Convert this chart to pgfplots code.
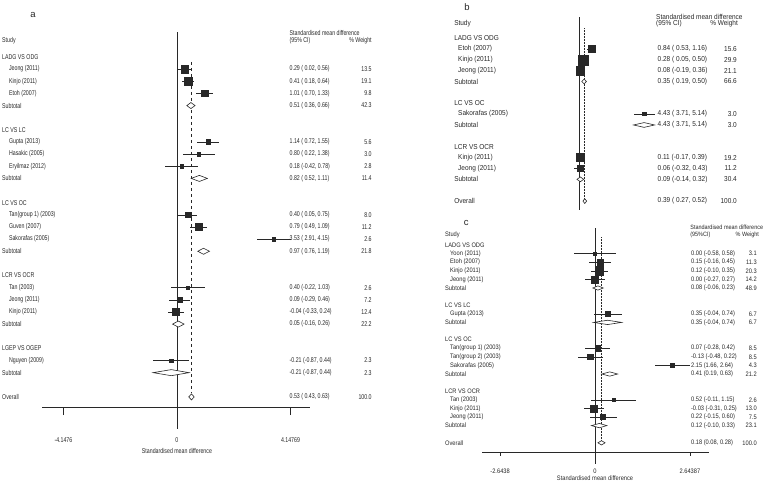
\documentclass[border=0pt]{standalone}
\usepackage{fontspec}
\setmainfont{Liberation Sans}
\newfontfamily\fa{Liberation Sans}[FakeStretch=0.75]
\newfontfamily\fb{Liberation Sans}[FakeStretch=0.9]
\newfontfamily\fc{Liberation Sans}[FakeStretch=0.88]
\usepackage{pgfplots}
\usepackage{pgfplotstable}
\pgfplotsset{compat=1.18}
\definecolor{ink}{RGB}{40,40,40}
\newcommand\FA{\fa\fontsize{7}{8}\selectfont}
\newcommand\FB{\fb\fontsize{7.2}{8}\selectfont}
\newcommand\FC{\fc\fontsize{6.5}{7}\selectfont}
\newcommand\FCh{\fc\fontsize{6.2}{7}\selectfont}
\newcommand\FL{\fontsize{9.5}{10}\selectfont}
\tikzset{txt/.style={font=\pf, text=ink, inner sep=0pt}}
\newcommand\Gr[2]{\node[txt,anchor=west] at (axis cs:\gx,-#1) {#2};}
\newcommand\St[4]{\node[txt,anchor=west] at (axis cs:\sx,-#1) {#2};\node[txt,anchor=west] at (axis cs:\cx,-#1) {#3};\node[txt,anchor=east] at (axis cs:\wx,-#1) {#4};}
\newcommand\Su[4]{\node[txt,anchor=west] at (axis cs:\gx,-#1) {#2};\node[txt,anchor=west] at (axis cs:\cx,-#1) {#3};\node[txt,anchor=east] at (axis cs:\wx,-#1) {#4};}
\pgfplotsset{
  sq/.style={
    scatter, only marks, mark=square*,
    scatter/use mapped color={draw=ink, fill=ink},
    point meta=\thisrow{w},
    visualization depends on={#1*sqrt(\thisrow{w}) \as \msz},
    scatter/@pre marker code/.append style={/tikz/mark size=\msz},
    error bars/.cd, x dir=both, x explicit, error mark=none,
    error bar style={line width=0.6pt, ink},
  },
  dia/.style={ink, fill=white, line width=0.6pt, mark=none},
  base/.style={scale only axis, clip=false, ytick=\empty,
    /pgf/number format/assume math mode=true},
}
\pgfplotstableread{
r est lo hi w
1 0.29 0.02 0.56 13.5
2 0.41 0.18 0.64 19.1
3 1.01 0.70 1.33 9.8
7 1.14 0.72 1.55 5.6
8 0.80 0.22 1.38 3.0
9 0.18 -0.42 0.78 2.8
13 0.40 0.05 0.75 8.0
14 0.79 0.49 1.09 11.2
15 3.53 2.91 4.15 2.6
19 0.40 -0.22 1.03 2.6
20 0.09 -0.29 0.46 7.2
21 -0.04 -0.33 0.24 12.4
25 -0.21 -0.87 0.44 2.3
}\studiesA
\pgfplotstableread{
r est lo hi w
1 0.84 0.53 1.16 15.6
2 0.28 0.05 0.50 29.9
3 0.08 -0.19 0.36 21.1
7 4.43 3.71 5.14 3.0
11 0.11 -0.17 0.39 19.2
12 0.06 -0.32 0.43 11.2
}\studiesB
\pgfplotstableread{
r est lo hi w
1 0.00 -0.58 0.58 3.1
2 0.15 -0.16 0.45 11.3
3 0.12 -0.10 0.35 20.3
4 0.00 -0.27 0.27 14.2
8 0.35 -0.04 0.74 6.7
12 0.07 -0.28 0.42 8.5
13 -0.13 -0.48 0.22 8.5
14 2.15 1.66 2.64 4.3
18 0.52 -0.11 1.15 2.6
19 -0.03 -0.31 0.25 13.0
20 0.22 -0.15 0.60 7.5
}\studiesC
\begin{document}
\begin{tikzpicture}
\path[use as bounding box] (0,0) rectangle (770pt,-483pt);
% ---------------- panel a
\def\gx{-6.39}\def\sx{-6.14}\def\cx{4.11}\def\wx{7.12}\def\pf{\FA}
\begin{axis}[base, at={(42pt,-407pt)}, anchor=south west,
  width=268pt, height=375pt,
  xmin=-4.93, xmax=4.86, ymin=-28.83, ymax=2.06,
  axis x line=bottom, axis y line=none,
  axis line style={-, line width=0.6pt, ink},
  xtick={-4.1476,0,4.14769}, xticklabels={-4.1476,0,4.14769},
  tick align=outside, major tick length=8pt,
  tick style={line width=0.6pt, ink},
  xticklabel style={font=\FA, text=ink, inner sep=0pt, yshift=-22pt},
  xlabel={Standardised mean difference},
  xlabel style={font=\FA, text=ink, inner sep=0pt, at={(axis description cs:0.5036,-0.1173)}, anchor=center},
]
\addplot[ink, line width=0.6pt] coordinates {(0,2.06) (0,-30.64)};
\addplot[ink, dashed, line width=0.5pt] coordinates {(0.53,-0.4) (0.53,-27.7)};
\addplot[sq=1.0] table[x=est, y expr=-\thisrow{r}, x error plus expr=\thisrow{hi}-\thisrow{est}, x error minus expr=\thisrow{est}-\thisrow{lo}] {\studiesA};
\addplot[dia] coordinates {(0.36,-4) (0.51,-3.75) (0.66,-4) (0.51,-4.25)} -- cycle;
\addplot[dia] coordinates {(0.52,-10) (0.82,-9.75) (1.11,-10) (0.82,-10.25)} -- cycle;
\addplot[dia] coordinates {(0.76,-16) (0.97,-15.75) (1.19,-16) (0.97,-16.25)} -- cycle;
\addplot[dia] coordinates {(-0.16,-22) (0.05,-21.75) (0.26,-22) (0.05,-22.25)} -- cycle;
\addplot[dia] coordinates {(-0.87,-26) (-0.21,-25.75) (0.44,-26) (-0.21,-26.25)} -- cycle;
\addplot[dia] coordinates {(0.43,-28) (0.53,-27.75) (0.63,-28) (0.53,-28.25)} -- cycle;
\node[font=\FL, text=ink, inner sep=0pt] at (axis cs:-5.26,3.46) {a};
\node[txt,anchor=west] at (axis cs:4.11,1.98) {Standardised mean difference};
\node[txt,anchor=west] at (axis cs:4.11,1.32) {(95\% CI)};
\node[txt,anchor=east] at (axis cs:7.12,1.32) {\% Weight};
\node[txt,anchor=west] at (axis cs:-6.39,1.32) {Study};
\Gr{0}{LADG VS ODG}
\St{1}{Jeong (2011)}{0.29 ( 0.02, 0.56)}{13.5}
\St{2}{Kinjo (2011)}{0.41 ( 0.18, 0.64)}{19.1}
\St{3}{Etoh (2007)}{1.01 ( 0.70, 1.33)}{9.8}
\Su{4}{Subtotal}{0.51 ( 0.36, 0.66)}{42.3}
\Gr{6}{LC VS LC}
\St{7}{Gupta (2013)}{1.14 ( 0.72, 1.55)}{5.6}
\St{8}{Hasakic (2005)}{0.80 ( 0.22, 1.38)}{3.0}
\St{9}{Eryilmaz (2012)}{0.18 (-0.42, 0.78)}{2.8}
\Su{10}{Subtotal}{0.82 ( 0.52, 1.11)}{11.4}
\Gr{12}{LC VS OC}
\St{13}{Tan(group 1) (2003)}{0.40 ( 0.05, 0.75)}{8.0}
\St{14}{Guven (2007)}{0.79 ( 0.49, 1.09)}{11.2}
\St{15}{Sakorafas (2005)}{3.53 ( 2.91, 4.15)}{2.6}
\Su{16}{Subtotal}{0.97 ( 0.76, 1.19)}{21.8}
\Gr{18}{LCR VS OCR}
\St{19}{Tan (2003)}{0.40 (-0.22, 1.03)}{2.6}
\St{20}{Jeong (2011)}{0.09 (-0.29, 0.46)}{7.2}
\St{21}{Kinjo (2011)}{-0.04 (-0.33, 0.24)}{12.4}
\Su{22}{Subtotal}{0.05 (-0.16, 0.26)}{22.2}
\Gr{24}{LGEP VS OGEP}
\St{25}{Nguyen (2009)}{-0.21 (-0.87, 0.44)}{2.3}
\Su{26}{Subtotal}{-0.21 (-0.87, 0.44)}{2.3}
\Su{28}{Overall}{0.53 ( 0.43, 0.63)}{100.0}
\end{axis}
% ---------------- panel b
\def\gx{-8.50}\def\sx{-8.23}\def\cx{5.34}\def\wx{10.75}\def\pf{\FB}
\begin{axis}[base, at={(579pt,-210pt)}, anchor=south west,
  width=75.56pt, height=193pt,
  xmin=0, xmax=5.14, ymin=-15.82, ymax=1.93,
  axis lines=none, xtick=\empty,
]
\addplot[ink, line width=0.6pt] coordinates {(0,1.93) (0,-15.82)};
\addplot[ink, densely dotted, line width=0.5pt] coordinates {(0.39,0.9) (0.39,-14.7)};
\addplot[sq=0.92] table[x=est, y expr=-\thisrow{r}, x error plus expr=\thisrow{hi}-\thisrow{est}, x error minus expr=\thisrow{est}-\thisrow{lo}] {\studiesB};
\addplot[dia] coordinates {(0.19,-4) (0.35,-3.78) (0.50,-4) (0.35,-4.22)} -- cycle;
\addplot[dia] coordinates {(3.71,-8) (4.43,-7.78) (5.14,-8) (4.43,-8.22)} -- cycle;
\addplot[dia] coordinates {(-0.14,-13) (0.09,-12.78) (0.32,-13) (0.09,-13.22)} -- cycle;
\addplot[dia] coordinates {(0.27,-15) (0.39,-14.78) (0.52,-15) (0.39,-15.22)} -- cycle;
\node[font=\FL, text=ink, inner sep=0pt] at (axis cs:-7.62,2.85) {b};
\node[txt,anchor=west] at (axis cs:5.24,1.93) {Standardised mean difference};
\node[txt,anchor=west] at (axis cs:5.24,1.29) {(95\% CI)};
\node[txt,anchor=east] at (axis cs:10.82,1.29) {\% Weight};
\node[txt,anchor=west] at (axis cs:-8.50,1.29) {Study};
\Gr{0}{LADG VS ODG}
\St{1}{Etoh (2007)}{0.84 ( 0.53, 1.16)}{15.6}
\St{2}{Kinjo (2011)}{0.28 ( 0.05, 0.50)}{29.9}
\St{3}{Jeong (2011)}{0.08 (-0.19, 0.36)}{21.1}
\Su{4}{Subtotal}{0.35 ( 0.19, 0.50)}{66.6}
\Gr{6}{LC VS OC}
\St{7}{Sakorafas (2005)}{4.43 ( 3.71, 5.14)}{3.0}
\Su{8}{Subtotal}{4.43 ( 3.71, 5.14)}{3.0}
\Gr{10}{LCR VS OCR}
\St{11}{Kinjo (2011)}{0.11 (-0.17, 0.39)}{19.2}
\St{12}{Jeong (2011)}{0.06 (-0.32, 0.43)}{11.2}
\Su{13}{Subtotal}{0.09 (-0.14, 0.32)}{30.4}
\Su{15}{Overall}{0.39 ( 0.27, 0.52)}{100.0}
\end{axis}
% ---------------- panel c
\def\gx{-4.18}\def\sx{-4.04}\def\cx{2.67}\def\wx{4.51}\def\pf{\FC}
\begin{axis}[base, at={(482pt,-452pt)}, anchor=south west,
  width=227pt, height=224pt,
  xmin=-3.148, xmax=3.175, ymin=-24.07, ymax=1.977,
  axis x line=bottom, axis y line=none,
  axis line style={-, line width=0.6pt, ink},
  xtick={-2.6438,0,2.64387}, xticklabels={-2.6438,0,2.64387},
  tick align=outside, major tick length=3.5pt,
  tick style={line width=0.6pt, ink},
  xticklabel style={font=\FC, text=ink, inner sep=0pt, yshift=-13pt},
  xlabel={Standardised mean difference},
  xlabel style={font=\FC, text=ink, inner sep=0pt, at={(axis description cs:0.498,-0.116)}, anchor=center},
]
\addplot[ink, line width=0.6pt] coordinates {(0,1.977) (0,-25.47)};
\addplot[ink, densely dotted, line width=0.5pt] coordinates {(0.18,0.93) (0.18,-22.75)};
\addplot[sq=0.92] table[x=est, y expr=-\thisrow{r}, x error plus expr=\thisrow{hi}-\thisrow{est}, x error minus expr=\thisrow{est}-\thisrow{lo}] {\studiesC};
\addplot[dia] coordinates {(-0.06,-5) (0.08,-4.75) (0.23,-5) (0.08,-5.25)} -- cycle;
\addplot[dia] coordinates {(-0.04,-9) (0.35,-8.75) (0.74,-9) (0.35,-9.25)} -- cycle;
\addplot[dia] coordinates {(0.19,-15) (0.41,-14.75) (0.63,-15) (0.41,-15.25)} -- cycle;
\addplot[dia] coordinates {(-0.10,-21) (0.12,-20.75) (0.33,-21) (0.12,-21.25)} -- cycle;
\addplot[dia] coordinates {(0.08,-23) (0.18,-22.75) (0.28,-23) (0.18,-23.25)} -- cycle;
\node[font=\FL, text=ink, inner sep=0pt] at (axis cs:-3.59,2.56) {c};
\node[txt,font=\FCh,anchor=west] at (axis cs:2.65,2.08) {Standardised mean difference};
\node[txt,font=\FCh,anchor=west] at (axis cs:2.65,1.12) {(95\%CI)};
\node[txt,font=\FCh,anchor=east] at (axis cs:4.57,1.12) {\% Weight};
\node[txt,anchor=west] at (axis cs:-4.18,1.16) {Study};
\Gr{0}{LADG VS ODG}
\St{1}{Yoon (2011)}{0.00 (-0.58, 0.58)}{3.1}
\St{2}{Etoh (2007)}{0.15 (-0.16, 0.45)}{11.3}
\St{3}{Kinjo (2011)}{0.12 (-0.10, 0.35)}{20.3}
\St{4}{Jeong (2011)}{0.00 (-0.27, 0.27)}{14.2}
\Su{5}{Subtotal}{0.08 (-0.06, 0.23)}{48.9}
\Gr{7}{LC VS LC}
\St{8}{Gupta (2013)}{0.35 (-0.04, 0.74)}{6.7}
\Su{9}{Subtotal}{0.35 (-0.04, 0.74)}{6.7}
\Gr{11}{LC VS OC}
\St{12}{Tan(group 1) (2003)}{0.07 (-0.28, 0.42)}{8.5}
\St{13}{Tan(group 2) (2003)}{-0.13 (-0.48, 0.22)}{8.5}
\St{14}{Sakorafas (2005)}{2.15 (1.66, 2.64)}{4.3}
\Su{15}{Subtotal}{0.41 (0.19, 0.63)}{21.2}
\Gr{17}{LCR VS OCR}
\St{18}{Tan (2003)}{0.52 (-0.11, 1.15)}{2.6}
\St{19}{Kinjo (2011)}{-0.03 (-0.31, 0.25)}{13.0}
\St{20}{Jeong (2011)}{0.22 (-0.15, 0.60)}{7.5}
\Su{21}{Subtotal}{0.12 (-0.10, 0.33)}{23.1}
\Su{23}{Overall}{0.18 (0.08, 0.28)}{100.0}
\end{axis}
\end{tikzpicture}
\end{document}
